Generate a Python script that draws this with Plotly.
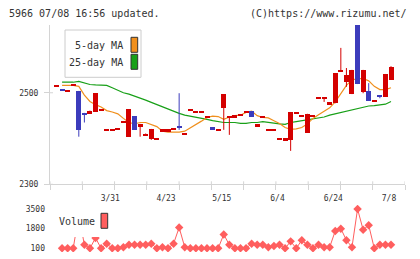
import plotly.graph_objects as go

W, H = 420, 259

# ---------------- data ----------------
tick_pos = [10, 20, 30, 40, 50, 60]
tick_text = ["3/31", "4/23", "5/15", "6/4", "6/24", "7/8"]

opens = [2516, 2508, 2505, 2518, 2504, 2456, 2454, 2458, 2462, 2420,
         2420, 2422, 2435, 2404, 2449, 2425, 2409, 2400, 2400, 2418,
         2418, 2421, 2427, 2411, 2462, 2459, 2459, 2445, 2425, 2420,
         2467, 2448, 2447, 2451, 2459, 2460, 2429, 2446, 2420, 2420,
         2400, 2397, 2397, 2457, 2449, 2413, 2449, 2490, 2490, 2477,
         2477, 2546, 2524, 2497, 2648, 2502, 2504, 2482, 2495, 2491,
         2528]
highs = [2516, 2508, 2505, 2518, 2504, 2456, 2461, 2499, 2462, 2420,
         2420, 2422, 2437, 2464, 2449, 2432, 2411, 2421, 2400, 2418,
         2418, 2421, 2499, 2411, 2462, 2459, 2459, 2449, 2425, 2420,
         2497, 2448, 2451, 2451, 2459, 2460, 2429, 2449, 2420, 2420,
         2400, 2400, 2458, 2457, 2449, 2454, 2449, 2490, 2490, 2477,
         2543, 2598, 2554, 2550, 2648, 2550, 2521, 2482, 2495, 2541,
         2558]
lows = [2516, 2504, 2505, 2518, 2404, 2435, 2454, 2458, 2462, 2420,
        2420, 2422, 2435, 2404, 2419, 2404, 2409, 2397, 2400, 2418,
        2418, 2421, 2419, 2411, 2462, 2459, 2459, 2445, 2419, 2420,
        2419, 2408, 2447, 2451, 2459, 2447, 2429, 2446, 2420, 2420,
        2400, 2397, 2373, 2457, 2449, 2413, 2449, 2490, 2480, 2477,
        2477, 2546, 2513, 2497, 2519, 2499, 2483, 2482, 2488, 2491,
        2528]
closes = [2516, 2504, 2505, 2518, 2419, 2454, 2461, 2499, 2462, 2420,
          2420, 2422, 2437, 2464, 2419, 2432, 2409, 2421, 2400, 2418,
          2418, 2421, 2423, 2411, 2462, 2459, 2459, 2449, 2419, 2420,
          2497, 2448, 2451, 2451, 2459, 2447, 2429, 2449, 2420, 2420,
          2400, 2400, 2458, 2457, 2449, 2454, 2449, 2490, 2490, 2477,
          2543, 2550, 2539, 2550, 2519, 2550, 2483, 2482, 2491, 2541,
          2556]

ma5 = [None, 2516, 2516, 2516, 2514, 2495, 2481, 2474, 2469, 2461,
       2458, 2454, 2444, 2435, 2432, 2435, 2435, 2431, 2426, 2416,
       2414, 2414, 2414, 2416, 2423, 2431, 2438, 2446, 2449, 2448,
       2442, 2447, 2450, 2451, 2457, 2460, 2450, 2446, 2445, 2439,
       2433, 2424, 2420, 2421, 2424, 2432, 2444, 2452, 2460, 2467,
       2480, 2497, 2516, 2528, 2531, 2531, 2526, 2514, 2507, 2507,
       2511]
ma25 = [None, 2523, 2523, 2523, 2525, 2521, 2518, 2517, 2517, 2516,
        2511, 2506, 2500, 2497, 2493, 2489, 2484, 2479, 2474, 2469,
        2464, 2459, 2455, 2451, 2449, 2447, 2444, 2442, 2439, 2437,
        2435, 2435, 2435, 2433, 2433, 2435, 2435, 2437, 2435, 2433,
        2432, 2431, 2435, 2437, 2439, 2440, 2442, 2445, 2447, 2451,
        2454, 2456, 2459, 2462, 2466, 2469, 2471, 2472, 2473, 2475,
        2481]
volume = [None, 100, 100, 100, 3000, 400, 100, 1000, 100, 500,
          100, 100, 200, 400, 400, 400, 400, 500, 100, 200,
          100, 500, 1900, 200, 100, 100, 100, 100, 100, 100,
          1300, 400, 100, 100, 100, 500, 400, 400, 200, 300,
          400, 100, 700, 100, 800, 400, 100, 400, 200, 200,
          1600, 1800, 800, 200, 3500, 1700, 2100, 100, 400, 400,
          400]

# ---------------- styling ----------------
RED = "#d40000"
BLUE = "#3c3cbc"
ORANGE = "#f0901e"
GREEN = "#18a018"
VOLC = "#ff5e5e"
AXC = "#d4d4d4"
TXT = "#333333"
MONO = "DejaVu Sans Mono"

X0, X1 = -1.166, 62.51      # x range (index units)
Y0, Y1 = 2300, 2648         # price range
V0, V1 = -220, 3846         # volume range


def px(x):
    return x / W


def py(y):
    return 1 - y / H


idx = list(range(len(opens)))
is_up = [c >= o for o, c in zip(opens, closes)]
bcol = [RED if u else BLUE for u in is_up]
doji_h = 3.5
bases, heights = [], []
for o, c in zip(opens, closes):
    lo_, hi_ = min(o, c), max(o, c)
    if hi_ - lo_ < doji_h:
        mid = (hi_ + lo_) / 2
        lo_, hi_ = mid - doji_h / 2, mid + doji_h / 2
    bases.append(lo_)
    heights.append(hi_ - lo_)

fig = go.Figure()

# moving averages (base price subplot)
fig.add_trace(go.Scatter(x=idx, y=ma25, mode="lines", line=dict(color=GREEN, width=1.2),
                         xaxis="x", yaxis="y", showlegend=False, hoverinfo="skip"))
fig.add_trace(go.Scatter(x=idx, y=ma5, mode="lines", line=dict(color=ORANGE, width=1.2),
                         xaxis="x", yaxis="y", showlegend=False, hoverinfo="skip"))

# candles on overlaying axis (drawn above the MAs)
for col in (RED, BLUE):
    wx, wy = [], []
    for i in idx:
        if bcol[i] == col and highs[i] > lows[i]:
            wx += [i, i, None]
            wy += [lows[i], highs[i], None]
    fig.add_trace(go.Scatter(x=wx, y=wy, mode="lines", line=dict(color=col, width=1),
                             xaxis="x", yaxis="y3", showlegend=False, hoverinfo="skip"))
fig.add_trace(go.Bar(x=idx, y=heights, base=bases, width=0.9,
                     marker=dict(color=bcol, line=dict(width=0)),
                     xaxis="x", yaxis="y3", showlegend=False, hoverinfo="skip"))

# volume
fig.add_trace(go.Scatter(x=idx, y=volume, mode="lines+markers",
                         line=dict(color=VOLC, width=1),
                         marker=dict(symbol="diamond", size=6.5, color=VOLC, line=dict(width=0)),
                         xaxis="x", yaxis="y2", showlegend=False, hoverinfo="skip"))

xdom = [px(50), px(405)]
main_dom = [py(184.3), py(25)]
vol_dom = [py(252), py(205)]

minor_dt = (X1 - X0) / 11

shapes = []
# inner stubs of x ticks
k = 0
while k <= 11:
    xv = X0 + k * minor_dt
    shapes.append(dict(type="line", xref="x", yref="y", x0=xv, x1=xv,
                       ysizemode="pixel", yanchor=Y0, y0=0, y1=3,
                       line=dict(color=AXC, width=1)))
    k += 1
# inner stubs of y ticks
for v in (2300, 2500):
    shapes.append(dict(type="line", xref="x", yref="y", y0=v, y1=v,
                       xsizemode="pixel", xanchor=X0, x0=0, x1=3,
                       line=dict(color=AXC, width=1)))
# MA legend
shapes.append(dict(type="rect", xref="paper", yref="paper",
                   x0=px(65), x1=px(141), y0=py(77.3), y1=py(30),
                   line=dict(color="#cccccc", width=1), fillcolor="white", layer="above"))
shapes.append(dict(type="rect", xref="paper", yref="paper",
                   x0=px(131), x1=px(137.7), y0=py(52.3), y1=py(37.3),
                   line=dict(color="#333333", width=1), fillcolor=ORANGE, layer="above"))
shapes.append(dict(type="rect", xref="paper", yref="paper",
                   x0=px(131), x1=px(137.7), y0=py(69.3), y1=py(54.3),
                   line=dict(color="#333333", width=1), fillcolor=GREEN, layer="above"))
# Volume legend
shapes.append(dict(type="rect", xref="paper", yref="paper",
                   x0=px(55), x1=px(111), y0=py(237), y1=py(205),
                   line=dict(width=0), fillcolor="white", layer="above"))
shapes.append(dict(type="rect", xref="paper", yref="paper",
                   x0=px(101), x1=px(107.7), y0=py(228.3), y1=py(213.3),
                   line=dict(color="#333333", width=1), fillcolor=VOLC, layer="above"))

ann_font = dict(family=MONO, size=10, color=TXT)
annotations = [
    dict(text="5966 07/08 16:56 updated.", x=px(7), y=py(13.3), xref="paper", yref="paper",
         xanchor="left", yanchor="middle", showarrow=False, font=ann_font),
    dict(text="(C)https://www.rizumu.net/", x=px(409), y=py(13.3), xref="paper", yref="paper",
         xanchor="right", yanchor="middle", showarrow=False, font=ann_font),
    dict(text="5-day MA", x=px(125), y=py(45.5), xref="paper", yref="paper",
         xanchor="right", yanchor="middle", showarrow=False, font=ann_font),
    dict(text="25-day MA", x=px(125), y=py(62.5), xref="paper", yref="paper",
         xanchor="right", yanchor="middle", showarrow=False, font=ann_font),
    dict(text="Volume", x=px(57), y=py(221.5), xref="paper", yref="paper",
         xanchor="left", yanchor="middle", showarrow=False, font=ann_font),
]

tick_font = dict(family=MONO, size=8, color=TXT)

fig.update_layout(
    template="none",
    width=W, height=H, autosize=False,
    margin=dict(l=0, r=0, t=0, b=0, pad=0, autoexpand=False),
    paper_bgcolor="white", plot_bgcolor="white",
    showlegend=False,
    bargap=0,
    xaxis=dict(domain=xdom, range=[X0, X1], anchor="y", automargin=False,
               showline=True, linecolor=AXC, linewidth=1,
               showgrid=False, zeroline=False,
               tickmode="array", tickvals=tick_pos, ticktext=tick_text,
               ticks="", tickfont=tick_font, ticklabelstandoff=6, ticklabelshift=-2,
               minor=dict(tickmode="linear", tick0=X0, dtick=minor_dt,
                          ticks="outside", ticklen=5, tickcolor=AXC, tickwidth=1,
                          showgrid=False)),
    yaxis=dict(domain=main_dom, range=[Y0, Y1], anchor="x", automargin=False,
               showline=True, linecolor=AXC, linewidth=1,
               showgrid=False, zeroline=False,
               tickmode="array", tickvals=[2300, 2500], ticktext=["2300", "2500"],
               ticks="outside", ticklen=5, tickcolor=AXC, tickwidth=1,
               tickfont=tick_font, ticklabelstandoff=4),
    yaxis3=dict(overlaying="y", range=[Y0, Y1], visible=False, anchor="x",
                automargin=False, showgrid=False, zeroline=False),
    yaxis2=dict(domain=vol_dom, range=[V0, V1], anchor="x", automargin=False,
                showline=False, showgrid=False, zeroline=False,
                tickmode="array", tickvals=[100, 1800, 3500], ticktext=["100", "1800", "3500"],
                ticks="", tickfont=tick_font, ticklabelstandoff=4),
    shapes=shapes,
    annotations=annotations,
)

fig.write_html("out.html")
